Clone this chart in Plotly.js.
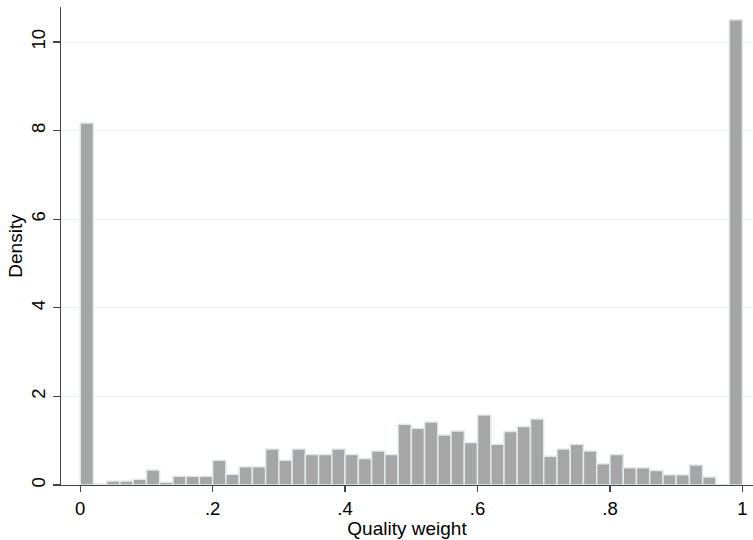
<!DOCTYPE html>
<html>
<head>
<meta charset="utf-8">
<script src="https://cdn.plot.ly/plotly-3.0.1.min.js"></script>
<style>html,body{margin:0;padding:0;background:#fff;}#chart{width:753px;height:540px;}</style>
</head>
<body>
<div id="chart"></div>
<script>
// Histogram bins: 50 bins of width 0.02 on [0, 1]
var binStart = 0;
var binWidth = 0.02;
var density = [
  8.17, 0.03, 0.09, 0.09, 0.13, 0.34, 0.06, 0.20, 0.20, 0.20,
  0.56, 0.24, 0.41, 0.41, 0.81, 0.56, 0.81, 0.69, 0.69, 0.81,
  0.69, 0.60, 0.77, 0.69, 1.37, 1.28, 1.42, 1.13, 1.22, 0.96,
  1.58, 0.92, 1.21, 1.32, 1.49, 0.65, 0.81, 0.92, 0.77, 0.48,
  0.69, 0.39, 0.39, 0.33, 0.23, 0.23, 0.45, 0.18, 0.00, 10.50
];
var xTickVals = [0, 0.2, 0.4, 0.6, 0.8, 1];
var xTickText = ["0", ".2", ".4", ".6", ".8", "1"];
var yTickVals = [0, 2, 4, 6, 8, 10];
var yTickText = ["0", "2", "4", "6", "8", "10"];

var centers = density.map(function(_, i){ return binStart + binWidth * (i + 0.5); });

var trace = {
  type: 'bar',
  x: centers,
  y: density,
  width: binWidth,
  marker: { color: '#a6a6a6', line: { color: '#e2eaec', width: 1.5 } },
  hoverinfo: 'skip'
};

var fam = '"Liberation Sans", Arial, Helvetica, sans-serif';
var tickFont = { family: fam, size: 18.5, color: '#000' };
var titleFont = { family: fam, size: 19, color: '#000' };

var layout = {
  width: 753, height: 540,
  margin: { l: 61, r: 0, t: 7, b: 55, pad: 0 },
  paper_bgcolor: '#fff', plot_bgcolor: '#fff',
  showlegend: false,
  font: tickFont,
  bargap: 0,
  xaxis: {
    range: [-0.029, 1.016],
    tickvals: xTickVals, ticktext: xTickText,
    ticks: 'outside', ticklen: 6, tickwidth: 1.3, tickcolor: '#444',
    showgrid: false, zeroline: false,
    showline: true, linecolor: '#444', linewidth: 1.3,
    tickfont: tickFont,
    title: { text: 'Quality weight', font: titleFont, standoff: 0 }
  },
  yaxis: {
    range: [0, 10.79],
    tickvals: yTickVals, ticktext: yTickText,
    tickangle: -90,
    ticks: 'outside', ticklen: 7, tickwidth: 1.3, tickcolor: '#444',
    showgrid: true, gridcolor: '#e9f1f2', gridwidth: 1,
    zeroline: false,
    showline: true, linecolor: '#444', linewidth: 1.3,
    tickfont: tickFont,
    title: { text: 'Density', font: titleFont, standoff: 0 }
  }
};

Plotly.newPlot('chart', [trace], layout, { staticPlot: true, displayModeBar: false });
</script>
</body>
</html>
